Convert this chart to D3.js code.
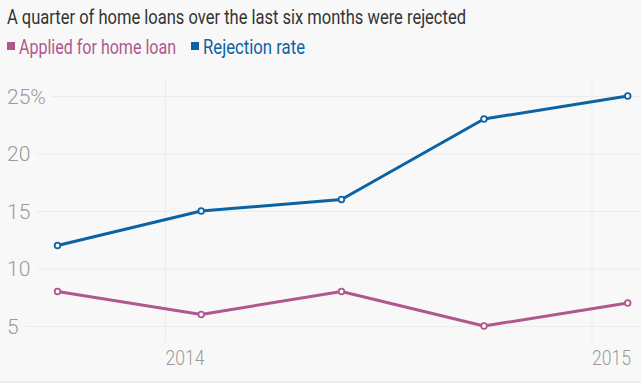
<!DOCTYPE html>
<html><head><meta charset="utf-8">
<script src="https://cdn.jsdelivr.net/npm/d3@7"></script>
<style>
html,body{margin:0;padding:0;background:#f8f8f8;}
svg{display:block;}
</style></head>
<body>
<svg id="chart" width="641" height="383"></svg>
<script>
const title = "A quarter of home loans over the last six months were rejected";
const dates = ["2013-10-01","2014-02-01","2014-06-01","2014-10-01","2015-02-01"];
const seriesNames = ["Applied for home loan","Rejection rate"];
const applied = [8, 6, 8, 5, 7];
const rejection = [12, 15, 16, 23, 25];
const colors = ["#b0578f","#0c62a2"];
const yTicks = [5, 10, 15, 20, 25];
const xTicks = ["2014-01-01","2015-01-01"];

const parse = d3.timeParse("%Y-%m-%d");
const svg = d3.select("#chart");
const W = 641, H = 383;

svg.append("rect").attr("width",W).attr("height",H).attr("fill","#f8f8f8");
svg.append("line").attr("x1",0).attr("x2",W).attr("y1",382).attr("y2",382).attr("stroke","#e2e2e2");

// title
svg.append("text").attr("x",7).attr("y",24)
  .attr("font-family","Roboto, 'Open Sans', sans-serif").attr("font-size",20)
  .attr("fill","#333").attr("textLength",459).attr("lengthAdjust","spacingAndGlyphs")
  .text(title);

// legend
const legX = [7, 191], legW = [157, 102];
seriesNames.forEach((n,i)=>{
  svg.append("rect").attr("x",legX[i]).attr("y",42).attr("width",8).attr("height",8).attr("fill",colors[i]);
  svg.append("text").attr("x",legX[i]+12).attr("y",54)
    .attr("font-family","Roboto, 'Open Sans', sans-serif").attr("font-size",20)
    .attr("fill",colors[i]).attr("textLength",legW[i]).attr("lengthAdjust","spacingAndGlyphs").text(n);
});

const x = d3.scaleTime().domain([parse("2014-01-01"), parse("2015-01-01")]).range([165, 591.5]);
const y = d3.scaleLinear().domain([5, 25]).range([326, 96]);
const plotTop = 80, plotBottom = 343;

// y grid + labels
const yAxis = d3.axisLeft(y).tickValues(yTicks).tickFormat(d => d===25 ? d+"%" : d).tickSize(0);
const yg = svg.append("g").call(yAxis);
yg.select(".domain").remove();
yg.selectAll("text").attr("x",7).attr("text-anchor","start").attr("dy","0.35em")
  .attr("font-family","Roboto, sans-serif").attr("font-weight",300).attr("font-size",21).attr("fill","#9a9a9a");
yg.selectAll(".tick").each(function(d){
  const t = d3.select(this);
  const w = t.select("text").node().getComputedTextLength();
  t.append("line").attr("x1",7+w+6).attr("x2",W).attr("stroke","#ececec").attr("stroke-width",1);
});

// x grid + labels
const xAxis = d3.axisBottom(x).tickValues(xTicks.map(parse)).tickFormat(d3.timeFormat("%Y")).tickSize(0);
const xg = svg.append("g").attr("transform",`translate(0,${plotBottom})`).call(xAxis);
xg.select(".domain").remove();
xg.selectAll(".tick").append("line").attr("y1",0).attr("y2",plotTop-plotBottom).attr("stroke","#ececec");
xg.selectAll("text").attr("x",0).attr("y",15).attr("dy","0.35em").attr("text-anchor","start")
  .attr("font-family","Roboto, sans-serif").attr("font-weight",300).attr("font-size",21).attr("fill","#9a9a9a")
  .attr("textLength",39).attr("lengthAdjust","spacingAndGlyphs");

// lines
const data = [applied, rejection];
const line = d3.line().x((d,i)=>x(parse(dates[i]))).y(d=>y(d));
data.forEach((vals,i)=>{
  svg.append("path").datum(vals).attr("d",line).attr("fill","none")
    .attr("stroke",colors[i]).attr("stroke-width",3).attr("stroke-linejoin","round");
  svg.selectAll(null).data(vals).enter().append("circle")
    .attr("cx",(d,j)=>x(parse(dates[j]))).attr("cy",d=>y(d)).attr("r",2.8)
    .attr("fill","#fff").attr("stroke",colors[i]).attr("stroke-width",1.8);
});
</script>
</body></html>
